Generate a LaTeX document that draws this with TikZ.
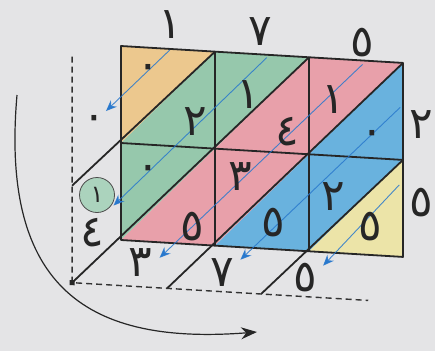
\documentclass[tikz,border=0pt]{standalone}
\usepackage{fontspec}
\newfontfamily\arabicfont[Script=Arabic]{DejaVu Sans}
\usetikzlibrary{arrows.meta}
\definecolor{paper}{RGB}{228,228,230}
\definecolor{cellorange}{RGB}{236,200,142}
\definecolor{cellgreen}{RGB}{150,200,172}
\definecolor{cellpink}{RGB}{232,160,170}
\definecolor{cellblue}{RGB}{105,178,222}
\definecolor{cellyellow}{RGB}{236,228,168}
\definecolor{traceblue}{RGB}{40,120,205}
\tikzset{
  digit/.style={font=\arabicfont\fontsize{44}{44}\selectfont, text=black!85, inner sep=0pt},
  gridline/.style={line width=1.8pt, draw=black!85},
  guide/.style={line width=1.4pt, draw=black!80, dash pattern=on 6pt off 4pt},
  trace/.style={line width=0.9pt, draw=traceblue, draw opacity=0.85,
    -{Stealth[length=11pt,width=9pt,fill=traceblue]}},
}
\begin{document}
\begin{tikzpicture}[x=1pt, y=-1pt, line join=round]
  \fill[paper] (0,0) rectangle (435,351);
  \useasboundingbox (0,0) rectangle (435,351);
  \begin{scope}[shift={(121,46)}, yslant=-0.06, x=94pt, y=-97pt]
    \fill[cellorange] (0,0) -- (1,0) -- (0,1) -- cycle;
    \fill[cellgreen] (1,0) -- (2,0) -- (0,2) -- (0,1) -- cycle;
    \fill[cellpink] (2,0) -- (3,0) -- (1,2) -- (0,2) -- cycle;
    \fill[cellblue] (3,0) -- (3,1) -- (2,2) -- (1,2) -- cycle;
    \fill[cellyellow] (3,1) -- (3,2) -- (2,2) -- cycle;
    \draw[gridline] (0,0) -- (3,0) -- (3,2) -- (0,2) -- cycle;
    \draw[gridline] (1,0) -- (1,2) (2,0) -- (2,2) (0,1) -- (3,1);
    \draw[gridline] (-0.52,1.47) -- (1,0);
    \draw[gridline] (-0.52,2.47) -- (2,0);
    \draw[gridline] (0.49,2.47) -- (3,0);
    \draw[gridline] (1.49,2.47) -- (3,1);
    \draw[guide] (-0.52,0.14) -- (-0.52,2.47) -- (2.63,2.47);
    \fill[black!85] (-0.52,2.47) ++(-2.5pt,-2.5pt) rectangle ++(5pt,5pt);
    \coordinate (s1) at (0.52,0.01);  \coordinate (e1) at (-0.16,0.68);
    \coordinate (s2) at (1.55,0.03);  \coordinate (e2) at (-0.08,1.65);
    \coordinate (s3) at (2.57,0.04);  \coordinate (e3) at (0.41,2.16);
    \coordinate (s4) at (2.97,0.46);  \coordinate (e4) at (1.27,2.13);
    \coordinate (s5) at (2.96,1.26);  \coordinate (e5) at (2.15,2.14);
    \draw[trace] (s1) -- (e1);
    \draw[trace] (s2) -- (e2);
    \draw[trace] (s3) -- (e3);
    \draw[trace] (s4) -- (e4);
    \draw[trace] (s5) -- (e5);
  \end{scope}
  % factors
  \node[digit] (top1) at (170,25) {١};
  \node[digit] (top2) at (260,32) {٧};
  \node[digit] (top3) at (362,43) {٥};
  \node[digit] (right1) at (421,125) {٢};
  \node[digit] (right2) at (421,203) {٥};
  % partial products
  \node[digit] (a0) at (148,72) {٠};
  \node[digit] (a1) at (195,122) {٢};
  \node[digit] (b0) at (248,95) {١};
  \node[digit] (b1) at (287,132) {٤};
  \node[digit] (c0) at (333,100) {١};
  \node[digit] (c1) at (372,138) {٠};
  \node[digit] (d0) at (148,173) {٠};
  \node[digit] (d1) at (192,227) {٥};
  \node[digit] (e0) at (240,177) {٣};
  \node[digit] (e1) at (273,223) {٥};
  \node[digit] (f0) at (333,197) {٢};
  \node[digit] (f1) at (370,227) {٥};
  % result
  \node[digit] (left1) at (94,123) {٠};
  \node[digit, circle, draw=black!70, line width=0.8pt, fill=cellgreen!80,
    minimum size=35pt, font=\arabicfont\fontsize{24}{24}\selectfont] (carry) at (97,195) {١};
  \node[digit] (left2) at (92,233) {٤};
  \node[digit] (bot1) at (140,263) {٣};
  \node[digit] (bot2) at (222,273) {٧};
  \node[digit] (bot3) at (305,278) {٥};
  \coordinate (from) at (17,95);
  \coordinate (to) at (257,332);
  \draw[line width=1.2pt, black!85, -{Stealth[length=16pt,width=12pt]}]
    (from) .. controls (0,290) and (90,345) .. (to);
\end{tikzpicture}
\end{document}
